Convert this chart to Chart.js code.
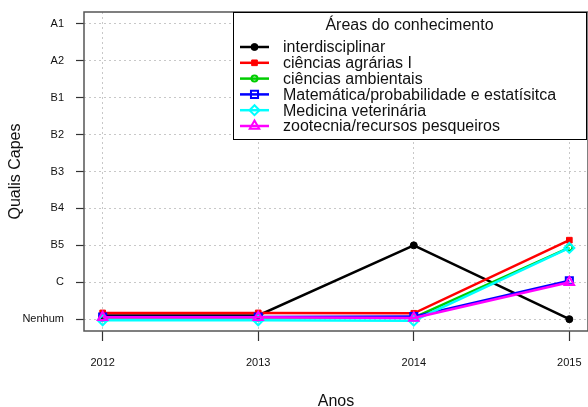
<!DOCTYPE html>
<html>
<head>
<meta charset="utf-8">
<script src="https://cdn.jsdelivr.net/npm/chart.js@4.4.1/dist/chart.umd.min.js"></script>
<style>
  body { margin: 0; background: #fff; }
</style>
</head>
<body>
<canvas id="myChart" width="588" height="407"></canvas>
<script>
const anos = [2012, 2013, 2014, 2015];
const qualis = ['Nenhum', 'C', 'B5', 'B4', 'B3', 'B2', 'B1', 'A2', 'A1'];
const areas = [
  'interdisciplinar',
  'ciências agrárias I',
  'ciências ambientais',
  'Matemática/probabilidade e estatísitca',
  'Medicina veterinária',
  'zootecnia/recursos pesqueiros'
];
// values are jittered a little in the original (0 = Nenhum, 1 = C, 2 = B5 ...)
const interdisciplinar = [0.1, 0.1, 2.0, 0.0];
const agrarias = [0.17, 0.17, 0.16, 2.14];
const ambientais = [0.05, 0.05, 0.04, 1.94];
const matematica = [0.06, 0.06, 0.07, 1.04];
const veterinaria = [-0.03, -0.03, -0.04, 1.93];
const zootecnia = [0.05, 0.05, 0.03, 1.0];

const FONT = "'Liberation Sans', Arial, sans-serif";

const series = [interdisciplinar, agrarias, ambientais, matematica, veterinaria, zootecnia];
const colors = ['#000000', '#ff0000', '#00cd00', '#0000ff', '#00ffff', '#ff00ff'];
const styles = [
  { pointStyle: 'circle', radius: 3.5, fill: true },
  { pointStyle: 'rect', radius: 4, fill: true },
  { pointStyle: 'circle', radius: 3, fill: false },
  { pointStyle: 'rect', radius: 5, fill: false },
  { pointStyle: 'rectRot', radius: 5, fill: false },
  { pointStyle: 'triangle', radius: 5.5, fill: false }
];

const datasets = areas.map((nome, i) => ({
  label: nome,
  data: series[i].map((v, j) => ({ x: anos[j], y: v })),
  borderColor: colors[i],
  backgroundColor: colors[i],
  borderWidth: 2.5,
  tension: 0,
  pointStyle: styles[i].pointStyle,
  pointRadius: styles[i].radius,
  pointBorderWidth: styles[i].fill ? 1 : 2,
  pointBorderColor: colors[i],
  pointBackgroundColor: styles[i].fill ? colors[i] : 'rgba(0,0,0,0)',
  order: areas.length - i
}));

// no extra room for the end labels, the plot box is fixed like in R
function semPadding(s) {
  s.paddingLeft = 0;
  s.paddingRight = 0;
  s.paddingTop = 0;
  s.paddingBottom = 0;
}

const boxAndLegend = {
  id: 'boxAndLegend',
  afterDraw(chart) {
    const ctx = chart.ctx;
    const a = chart.chartArea;
    ctx.save();
    // box round the plot
    ctx.strokeStyle = '#555';
    ctx.lineWidth = 1.5;
    ctx.strokeRect(a.left, a.top, a.right - a.left, a.bottom - a.top);

    // legend
    const lx = 233, ly = a.top, lw = 353, lh = 127;
    ctx.fillStyle = '#fff';
    ctx.fillRect(lx, ly, lw, lh);
    ctx.strokeStyle = '#000';
    ctx.lineWidth = 1;
    ctx.strokeRect(lx + 0.5, ly + 0.5, lw, lh);

    ctx.fillStyle = '#111';
    ctx.font = '16px ' + FONT;
    ctx.textAlign = 'center';
    ctx.textBaseline = 'middle';
    ctx.fillText('Áreas do conhecimento', lx + lw / 2, ly + 14);

    chart.data.datasets.forEach((ds, i) => {
      const y = ly + 35 + i * 15.8;
      ctx.strokeStyle = ds.borderColor;
      ctx.lineWidth = 2.5;
      ctx.beginPath();
      ctx.moveTo(240, y);
      ctx.lineTo(269, y);
      ctx.stroke();
      ctx.fillStyle = ds.pointBackgroundColor;
      ctx.strokeStyle = ds.pointBorderColor;
      ctx.lineWidth = ds.pointBorderWidth;
      Chart.helpers.drawPoint(ctx, {
        pointStyle: ds.pointStyle,
        radius: ds.pointRadius,
        borderWidth: ds.pointBorderWidth,
        rotation: 0
      }, 254.5, y);
      ctx.fillStyle = '#111';
      ctx.font = '16px ' + FONT;
      ctx.textAlign = 'left';
      ctx.textBaseline = 'middle';
      ctx.fillText(ds.label, 283, y + 1);
    });
    ctx.restore();
  }
};

new Chart(document.getElementById('myChart'), {
  type: 'line',
  data: { datasets: datasets },
  options: {
    responsive: false,
    animation: false,
    events: [],
    layout: { autoPadding: false, padding: { top: 12, right: 0, bottom: 0, left: 0 } },
    plugins: {
      legend: { display: false },
      tooltip: { enabled: false }
    },
    scales: {
      x: {
        type: 'linear',
        min: 2011.88,
        max: 2015.12,
        afterBuildTicks: s => { s.ticks = anos.map(v => ({ value: v })); },
        afterFit: s => { s.height = 76; semPadding(s); },
        grid: {
          color: '#c8c8c8',
          borderDash: [2, 3],
          tickColor: '#333',
          tickLength: 10,
          tickWidth: 1.2,
          tickBorderDash: []
        },
        border: { display: false, dash: [2, 3] },
        ticks: {
          autoSkip: false,
          maxRotation: 0,
          padding: 15,
          color: '#111',
          font: { size: 11, family: FONT },
          callback: v => String(v)
        },
        title: {
          display: true,
          text: 'Anos',
          color: '#111',
          font: { size: 16, family: FONT, lineHeight: 1 },
          padding: { top: 0, bottom: -3 }
        }
      },
      y: {
        type: 'linear',
        min: -0.32,
        max: 8.32,
        afterBuildTicks: s => { s.ticks = qualis.map((q, i) => ({ value: i })); },
        afterFit: s => { s.width = 84; semPadding(s); },
        grid: {
          color: '#c8c8c8',
          borderDash: [2, 3],
          tickColor: '#333',
          tickLength: 8,
          tickWidth: 1.2,
          tickBorderDash: []
        },
        border: { display: false, dash: [2, 3] },
        ticks: {
          autoSkip: false,
          padding: 12,
          color: '#111',
          font: { size: 11, family: FONT },
          callback: v => qualis[v]
        },
        title: {
          display: true,
          text: 'Qualis Capes',
          color: '#111',
          font: { size: 16, family: FONT, lineHeight: 1 },
          padding: { top: 8, bottom: 0 }
        }
      }
    }
  },
  plugins: [boxAndLegend]
});
</script>
</body>
</html>
